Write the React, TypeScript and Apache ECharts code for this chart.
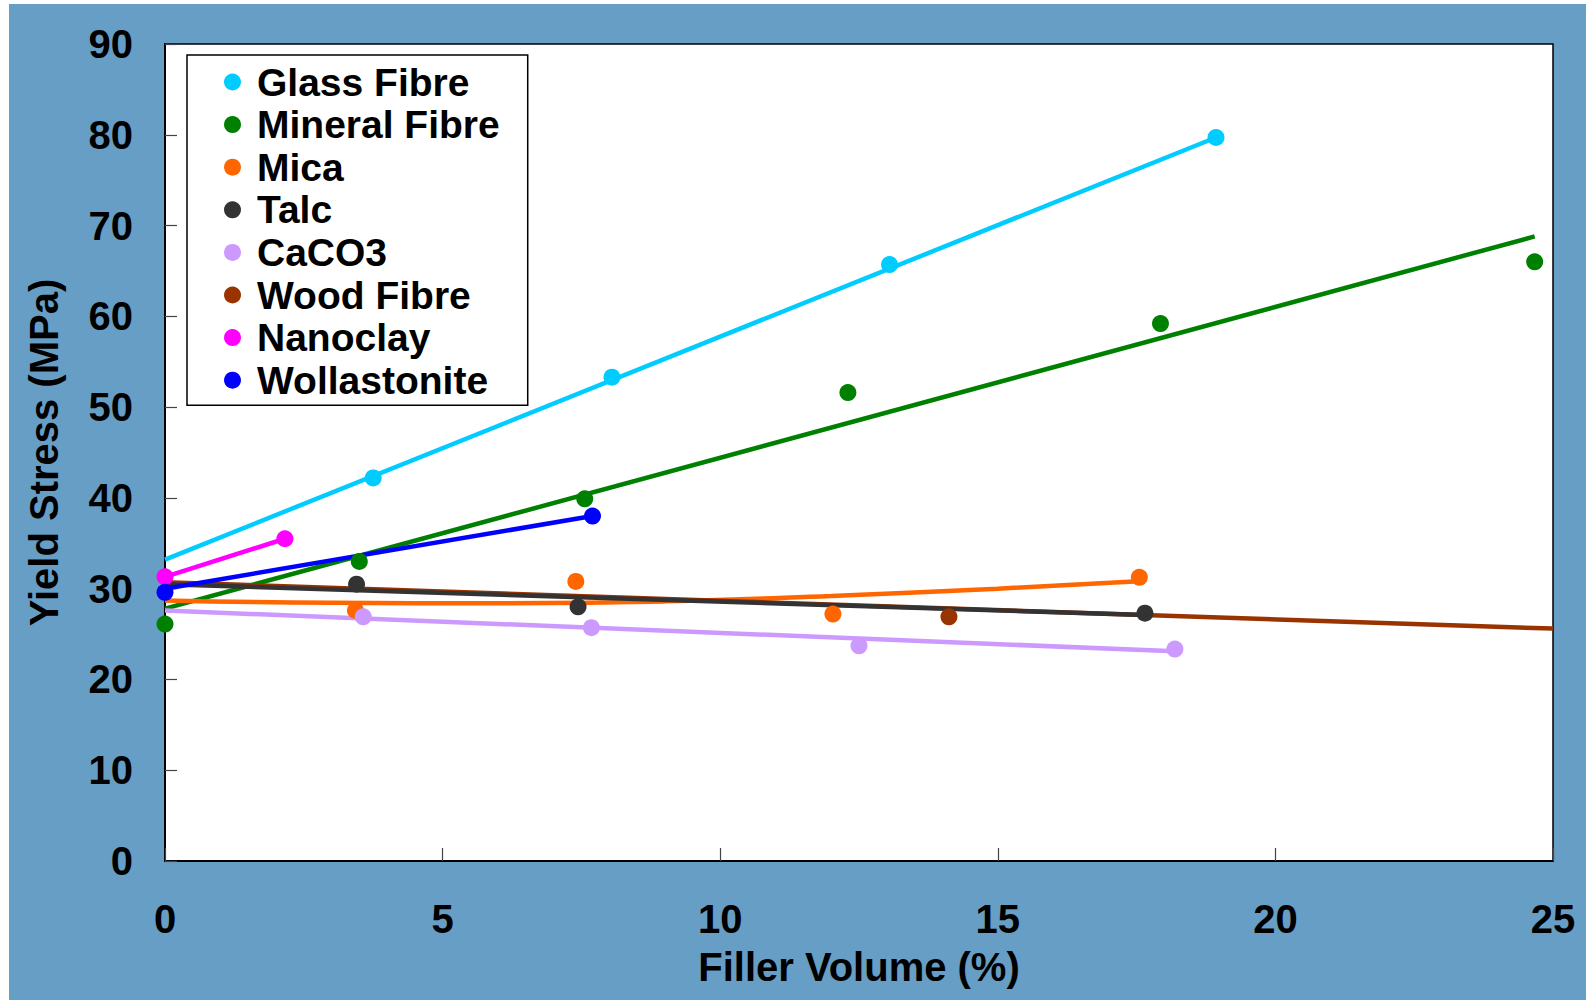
import React, { useEffect, useRef } from "react";
import * as echarts from "echarts";

const seriesNames = ["Glass Fibre", "Mineral Fibre", "Mica", "Talc", "CaCO3", "Wood Fibre", "Nanoclay", "Wollastonite"];
const seriesColors = ["#00CCFF", "#008000", "#FF6600", "#333333", "#CC99FF", "#993300", "#FF00FF", "#0000FF"];

// measured points
const glassX = [3.75, 8.05, 13.05, 18.93];
const glassY = [42.2, 53.3, 65.7, 79.7];
const mineralX = [0, 3.5, 7.56, 12.3, 17.93, 24.67];
const mineralY = [26.1, 33.0, 39.9, 51.6, 59.2, 66.0];
const micaX = [3.43, 7.4, 12.03, 17.55];
const micaY = [27.6, 30.8, 27.2, 31.25];
const talcX = [3.45, 7.44, 17.65];
const talcY = [30.5, 28.0, 27.3];
const caco3X = [3.57, 7.68, 12.5, 18.19];
const caco3Y = [26.9, 25.7, 23.7, 23.35];
const woodX = [14.12];
const woodY = [26.9];
const nanoX = [0, 2.16];
const nanoY = [31.3, 35.5];
const wollX = [0, 7.7];
const wollY = [29.6, 38.0];

// trend lines
const glassTrendX = [0, 18.93];
const glassTrendY = [33.2, 79.7];
const mineralTrendX = [0, 24.67];
const mineralTrendY = [27.8, 68.8];
const micaTrendX = [0, 3, 6, 9, 12, 15, 17.45];
const micaTrendY = [28.7, 28.45, 28.4, 28.6, 29.2, 30.0, 30.8];
const talcTrendX = [0, 17.65];
const talcTrendY = [30.5, 27.1];
const caco3TrendX = [0, 18.19];
const caco3TrendY = [27.6, 23.1];
const woodTrendX = [0, 25];
const woodTrendY = [30.7, 25.6];
const nanoTrendX = [0, 2.16];
const nanoTrendY = [31.3, 35.5];
const wollTrendX = [0, 7.7];
const wollTrendY = [30.0, 38.0];

const xTicks = [0, 5, 10, 15, 20, 25];
const yTicks = [0, 10, 20, 30, 40, 50, 60, 70, 80, 90];

const zip = (xs: number[], ys: number[]) => xs.map((x, i) => [x, ys[i]]);

const pointSets = [
  [glassX, glassY], [mineralX, mineralY], [micaX, micaY], [talcX, talcY],
  [caco3X, caco3Y], [woodX, woodY], [nanoX, nanoY], [wollX, wollY],
];
const trendSets = [
  [glassTrendX, glassTrendY], [mineralTrendX, mineralTrendY], [micaTrendX, micaTrendY], [talcTrendX, talcTrendY],
  [caco3TrendX, caco3TrendY], [woodTrendX, woodTrendY], [nanoTrendX, nanoTrendY], [wollTrendX, wollTrendY],
];
const trendZ = [2, 2, 2, 2.6, 2, 2.4, 2.8, 2.9];

const FONT = "'Liberation Sans', Arial, sans-serif";

export default function App() {
  const ref = useRef<HTMLDivElement>(null);
  useEffect(() => {
    if (!ref.current) return;
    const chart = echarts.init(ref.current, null, { renderer: "svg" });
    const series: any[] = [];
    trendSets.forEach((s, i) => {
      series.push({
        type: "line",
        name: seriesNames[i] + " trend",
        data: zip(s[0], s[1]),
        smooth: i === 2,
        showSymbol: false,
        symbol: "none",
        lineStyle: { color: seriesColors[i], width: 4.5 },
        itemStyle: { color: seriesColors[i] },
        z: trendZ[i],
        silent: true,
      });
    });
    pointSets.forEach((s, i) => {
      series.push({
        type: "scatter",
        name: seriesNames[i],
        data: zip(s[0], s[1]),
        symbol: "circle",
        symbolSize: 17,
        itemStyle: { color: seriesColors[i], opacity: 1 },
        z: 3,
      });
    });
    chart.setOption({
      animation: false,
      backgroundColor: "transparent",
      grid: {
        left: 165, right: 33, top: 44, bottom: 143,
        show: true, backgroundColor: "#ffffff", borderColor: "#000000", borderWidth: 1.5,
      },
      legend: {
        data: seriesNames,
        orient: "vertical",
        left: 187,
        top: 55,
        padding: [6, 28, 4, 37],
        itemWidth: 17,
        itemHeight: 17,
        itemGap: 0.6,
        icon: "circle",
        selectedMode: false,
        backgroundColor: "#ffffff",
        borderColor: "#000000",
        borderWidth: 1.5,
        textStyle: {
          fontFamily: FONT, fontWeight: "bold", fontSize: 39, color: "#000", lineHeight: 42,
          padding: [0, 0, 0, 11],
        },
        z: 10,
      },
      xAxis: {
        type: "value",
        min: xTicks[0],
        max: xTicks[xTicks.length - 1],
        interval: 5,
        name: "Filler Volume (%)",
        nameLocation: "middle",
        nameGap: 86,
        nameTextStyle: { fontFamily: FONT, fontWeight: "bold", fontSize: 40, color: "#000" },
        axisLine: { show: true, lineStyle: { color: "#000", width: 2 } },
        axisTick: { show: true, inside: true, length: 13, lineStyle: { color: "#444", width: 1.2 } },
        axisLabel: { margin: 38, fontFamily: FONT, fontWeight: "bold", fontSize: 40, color: "#000" },
        splitLine: { show: false },
      },
      yAxis: {
        type: "value",
        min: yTicks[0],
        max: yTicks[yTicks.length - 1],
        interval: 10,
        name: "Yield Stress (MPa)",
        nameLocation: "middle",
        nameGap: 101,
        nameTextStyle: { fontFamily: FONT, fontWeight: "bold", fontSize: 40, color: "#000" },
        axisLine: { show: true, lineStyle: { color: "#000", width: 2 } },
        axisTick: { show: true, inside: true, length: 12, lineStyle: { color: "#444", width: 1.2 } },
        axisLabel: { margin: 32, fontFamily: FONT, fontWeight: "bold", fontSize: 40, color: "#000" },
        splitLine: { show: false },
      },
      series,
    });
    return () => chart.dispose();
  }, []);
  return (
    <div style={{ position: "absolute", left: 0, top: 0, width: 1586, height: 1004, background: "#ffffff" }}>
      <div style={{ position: "absolute", left: 9, top: 4, width: 1577, height: 996, background: "#679EC6" }} />
      <div ref={ref} style={{ position: "absolute", left: 0, top: 0, width: 1586, height: 1004 }} />
    </div>
  );
}
